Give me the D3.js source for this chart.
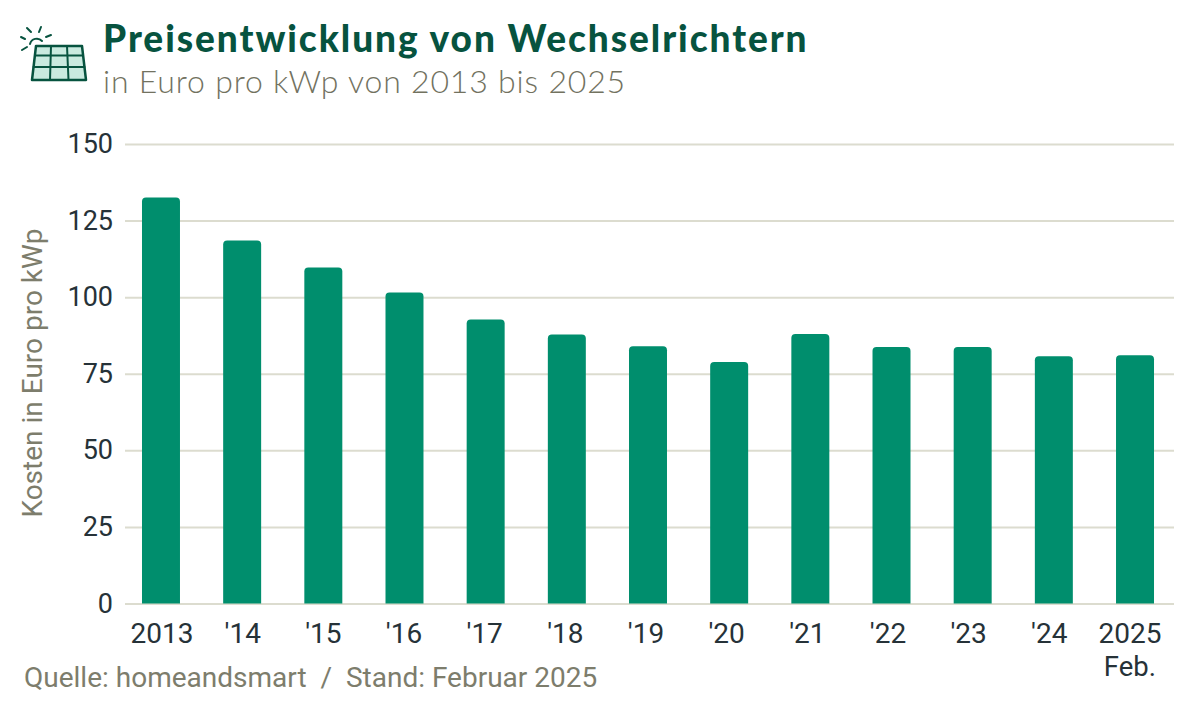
<!DOCTYPE html>
<html>
<head>
<meta charset="utf-8">
<script src="https://cdn.jsdelivr.net/npm/d3@7"></script>
<style>
  html, body { margin: 0; padding: 0; background: #fff; }
  svg { display: block; }
  text { font-family: Roboto, sans-serif; }
</style>
</head>
<body>
<svg id="chart" width="1200" height="706"></svg>
<script>
const years = ["2013", "'14", "'15", "'16", "'17", "'18", "'19", "'20", "'21", "'22", "'23", "'24", "2025"]
const prices = [132.5, 118.5, 109.7, 101.5, 92.7, 87.8, 84, 78.8, 88, 83.7, 83.7, 80.7, 81]
const yTicks = [0, 25, 50, 75, 100, 125, 150]

const svg = d3.select("#chart")

const y = d3.scaleLinear().domain([0, 150]).range([603.5, 144])
const x = d3.scaleBand().domain(years).range([120.4, 1175.6]).paddingInner(0.532).paddingOuter(0.266)
// the labels sit on a slightly tighter step than the bars
const xLabels = d3.scaleBand().domain(years).range([121.7, 1170.3])

// gridlines + left labels
const yAxis = d3.axisLeft(y).tickValues(yTicks).tickSize(0).tickPadding(12)
const yG = svg.append("g").attr("transform", "translate(125,0)").call(yAxis)
yG.select(".domain").remove()
yG.selectAll("text").attr("font-size", 27).attr("fill", "#263238").attr("font-family", "Roboto")
yG.selectAll(".tick").append("line")
  .attr("x2", 1049)
  .attr("stroke", "#dcdccf")
  .attr("stroke-width", 2)

// bars, only the top corners are rounded
const r = 4
svg.append("g").selectAll("path")
  .data(years)
  .enter()
  .append("path")
  .attr("fill", "#008e6d")
  .attr("d", (d, i) => {
    const x0 = x(d), w = x.bandwidth(), top = y(prices[i]), bottom = y(0)
    return `M${x0},${bottom}V${top + r}Q${x0},${top} ${x0 + r},${top}H${x0 + w - r}Q${x0 + w},${top} ${x0 + w},${top + r}V${bottom}Z`
  })

const xAxis = d3.axisBottom(xLabels).tickSize(0).tickPadding(20)
const xG = svg.append("g").attr("transform", "translate(0,603.5)").call(xAxis)
xG.select(".domain").remove()
xG.selectAll("text").attr("font-size", 28).attr("fill", "#263238").attr("font-family", "Roboto")

svg.append("text")
  .attr("x", xLabels("2025") + xLabels.bandwidth() / 2)
  .attr("y", 676)
  .attr("text-anchor", "middle")
  .attr("font-size", 27.5)
  .attr("fill", "#263238")
  .text("Feb.")

svg.append("text")
  .attr("transform", "translate(42,373) rotate(-90)")
  .attr("text-anchor", "middle")
  .attr("font-size", 28)
  .attr("fill", "#7d7d6c")
  .text("Kosten in Euro pro kWp")

svg.append("text")
  .attr("x", 24)
  .attr("y", 686.5)
  .attr("font-size", 28)
  .attr("fill", "#7d7d6c")
  .style("white-space", "pre")
  .text("Quelle: homeandsmart  /  Stand: Februar 2025")

svg.append("text")
  .attr("x", 103)
  .attr("y", 52)
  .attr("font-size", 37)
  .attr("font-weight", 900)
  .attr("letter-spacing", 1.95)
  .attr("fill", "#07533f")
  .style("font-family", "Lato")
  .text("Preisentwicklung von Wechselrichtern")

svg.append("text")
  .attr("x", 103)
  .attr("y", 93)
  .attr("font-size", 32)
  .attr("font-weight", 300)
  .attr("letter-spacing", 0.82)
  .attr("fill", "#72725f")
  .style("font-family", "Lato")
  .text("in Euro pro kWp von 2013 bis 2025")

// solar panel icon
const icon = svg.append("g").attr("stroke", "#07533f").attr("stroke-linecap", "round").attr("stroke-linejoin", "round").attr("fill", "none")
icon.append("path").attr("d", "M36,46H82L86,80H32Z").attr("fill", "#c9eadf").attr("stroke-width", 2.5)
icon.append("path").attr("d", "M35,55.5H83M33.5,67H84.5M51,46L50,80M67,46L68.5,80").attr("stroke-width", 2)
icon.append("path").attr("d", "M30,44A7,7 0 0 1 42,41").attr("stroke-width", 2)
icon.append("path").attr("d", "M21,37L25,39M27,28L31,32M41,27L39,32M46,37L51,35M22,50L27,47").attr("stroke-width", 2)
</script>
</body>
</html>
